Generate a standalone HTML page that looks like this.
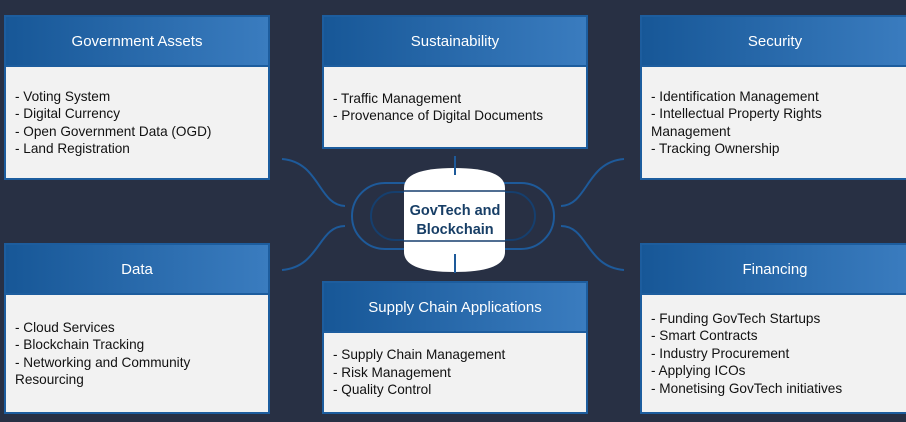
<!DOCTYPE html>
<html><head><meta charset="utf-8"><style>
html,body{margin:0;padding:0}
body{width:906px;height:422px;background:#283044;position:relative;overflow:hidden;font-family:"Liberation Sans",sans-serif}
.box{position:absolute;background:#f2f2f2;border:2px solid #1d5d9e;box-sizing:border-box;display:flex;flex-direction:column}
.hd{background:linear-gradient(90deg,#175797,#3a7cbf);color:#fff;font-size:15px;display:flex;align-items:center;justify-content:center;flex:none;border-bottom:2px solid #1d5d9e;box-sizing:border-box}
.bd{flex:1;display:flex;align-items:center;padding:0 10px 0 9px;color:#111;font-size:13.6px;line-height:17.5px}
</style></head><body>
<svg style="position:absolute;left:0;top:0" width="906" height="422">
<g fill="none" stroke="#1e5a9a" stroke-width="2">
<path d="M282 159 C320 162 318 205 345 206"/>
<path d="M282 270 C320 267 318 226 345 226"/>
<path d="M624 159 C586 162 588 205 561 206"/>
<path d="M624 270 C586 267 588 226 561 226"/>
<rect x="352" y="183" width="202" height="66" rx="33"/>
<rect x="371" y="192" width="164" height="48" rx="24" stroke="#163f6e"/>
</g>
<path d="M404 188 Q404 168 454 168 Q505 168 505 188 L505 252 Q505 272 454 272 Q404 272 404 252 Z" fill="#fff"/>
<line x1="404" y1="191" x2="505" y2="191" stroke="#163f6e" stroke-width="1.5"/>
<line x1="404" y1="241" x2="505" y2="241" stroke="#163f6e" stroke-width="1.5"/>
<line x1="455" y1="156" x2="455" y2="175" stroke="#1e5a9a" stroke-width="2"/>
<line x1="455" y1="254" x2="455" y2="273" stroke="#1e5a9a" stroke-width="2"/>
<text x="455" y="215" text-anchor="middle" font-family="Liberation Sans,sans-serif" font-weight="bold" font-size="14.5" fill="#173e66">GovTech and</text>
<text x="455" y="234" text-anchor="middle" font-family="Liberation Sans,sans-serif" font-weight="bold" font-size="14.5" fill="#173e66">Blockchain</text>
</svg>

<div class="box" style="left:4px;top:15px;width:266px;height:165px"><div class="hd" style="height:50px">Government Assets</div><div class="bd"><div>- Voting System<br>- Digital Currency<br>- Open Government Data (OGD)<br>- Land Registration</div></div></div>

<div class="box" style="left:322px;top:15px;width:266px;height:134px"><div class="hd" style="height:50px">Sustainability</div><div class="bd"><div>- Traffic Management<br>- Provenance of Digital Documents</div></div></div>

<div class="box" style="left:640px;top:15px;width:270px;height:165px"><div class="hd" style="height:50px">Security</div><div class="bd"><div>- Identification Management<br>- Intellectual Property Rights Management<br>- Tracking Ownership</div></div></div>

<div class="box" style="left:4px;top:243px;width:266px;height:171px"><div class="hd" style="height:50px">Data</div><div class="bd"><div>- Cloud Services<br>- Blockchain Tracking<br>- Networking and Community Resourcing</div></div></div>

<div class="box" style="left:322px;top:281px;width:266px;height:133px"><div class="hd" style="height:50px">Supply Chain Applications</div><div class="bd"><div>- Supply Chain Management<br>- Risk Management<br>- Quality Control</div></div></div>

<div class="box" style="left:640px;top:243px;width:270px;height:171px"><div class="hd" style="height:50px">Financing</div><div class="bd"><div>- Funding GovTech Startups<br>- Smart Contracts<br>- Industry Procurement<br>- Applying ICOs<br>- Monetising GovTech initiatives</div></div></div>
</body></html>
